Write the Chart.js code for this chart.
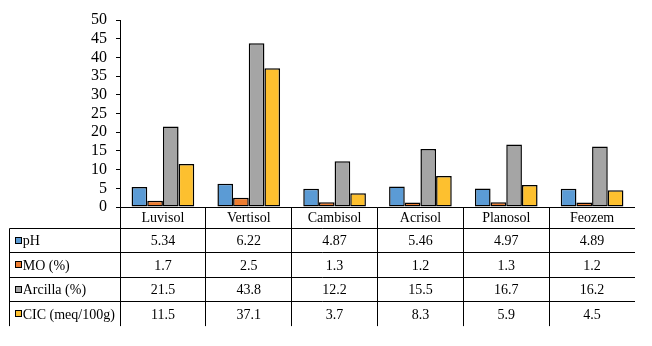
<!DOCTYPE html>
<html>
<head>
<meta charset="utf-8">
<script src="https://cdn.jsdelivr.net/npm/chart.js@4/dist/chart.umd.min.js"></script>
<style>
  html, body { margin: 0; padding: 0; background: #ffffff; }
  #wrap { width: 652px; height: 346px; }
</style>
</head>
<body>
<div id="wrap"><canvas id="c" width="652" height="346"></canvas></div>
<script>
// Soil types (columns) and the four measured properties
const categories = ['Luvisol', 'Vertisol', 'Cambisol', 'Acrisol', 'Planosol', 'Feozem'];
const seriesNames = ['pH', 'MO (%)', 'Arcilla (%)', 'CIC (meq/100g)'];
const phValues = [5.34, 6.22, 4.87, 5.46, 4.97, 4.89];
const moValues = [1.7, 2.5, 1.3, 1.2, 1.3, 1.2];
const arcillaValues = [21.5, 43.8, 12.2, 15.5, 16.7, 16.2];
const cicValues = [11.5, 37.1, 3.7, 8.3, 5.9, 4.5];
const yTicks = [0, 5, 10, 15, 20, 25, 30, 35, 40, 45, 50];

const seriesValues = [phValues, moValues, arcillaValues, cicValues];
const seriesColors = ['#5B9BD5', '#ED7D31', '#A5A5A5', '#FDC02F'];

const tableFont = '14px "Liberation Serif", "Times New Roman", serif';

// Data table drawn under the plot, aligned on the category scale
const dataTablePlugin = {
  id: 'dataTable',
  afterDraw(chart) {
    const ctx = chart.ctx;
    const area = chart.chartArea;
    const xs = chart.scales.x;
    const n = categories.length;
    const step = (area.right - area.left) / n;
    const crisp = v => Math.floor(v) + 0.5;

    const top = crisp(area.bottom);
    const headerBottom = 228.5;
    const rowH = 24.4;
    const rowLines = [headerBottom];
    for (let r = 1; r <= seriesNames.length; r++) rowLines.push(headerBottom + r * rowH);
    const tableBottom = rowLines[rowLines.length - 1];
    const legendLeft = 9.5;
    const axisX = crisp(area.left);
    const right = area.right;

    ctx.save();
    ctx.strokeStyle = '#000000';
    ctx.lineWidth = 1;
    ctx.beginPath();
    // baseline / top of header row
    ctx.moveTo(axisX, top); ctx.lineTo(right, top);
    // horizontal rules of the value rows
    for (let r = 0; r < rowLines.length - 1; r++) {
      const y = crisp(rowLines[r]);
      ctx.moveTo(legendLeft, y); ctx.lineTo(right, y);
    }
    // left edge of legend column
    ctx.moveTo(legendLeft, crisp(headerBottom)); ctx.lineTo(legendLeft, tableBottom);
    // axis line continues through the table
    ctx.moveTo(axisX, area.top); ctx.lineTo(axisX, tableBottom);
    // column separators
    for (let i = 1; i < n; i++) {
      const x = crisp(xs.getPixelForValue(i) - step / 2);
      ctx.moveTo(x, top); ctx.lineTo(x, tableBottom);
    }
    ctx.stroke();

    ctx.fillStyle = '#000000';
    ctx.font = tableFont;
    ctx.textBaseline = 'middle';
    ctx.textAlign = 'center';
    // category headers
    const headerMid = (area.bottom + headerBottom) / 2 + 1;
    categories.forEach((c, i) => ctx.fillText(c, xs.getPixelForValue(i), headerMid));

    // value rows
    seriesNames.forEach((name, r) => {
      const y0 = rowLines[r], y1 = rowLines[r + 1];
      const mid = (y0 + y1) / 2 + 1;
      // legend key
      ctx.fillStyle = seriesColors[r];
      ctx.fillRect(15.5, Math.round(mid) - 4.5, 6, 6);
      ctx.strokeStyle = '#000000';
      ctx.strokeRect(15.5, Math.round(mid) - 4.5, 6, 6);
      ctx.fillStyle = '#000000';
      ctx.textAlign = 'left';
      ctx.fillText(name, 22.7, mid);
      ctx.textAlign = 'center';
      seriesValues[r].forEach((v, i) => {
        ctx.fillText(String(v), xs.getPixelForValue(i), mid);
      });
    });
    ctx.restore();
  }
};

new Chart(document.getElementById('c'), {
  type: 'bar',
  data: {
    labels: categories,
    datasets: seriesNames.map((name, k) => ({
      label: name,
      data: seriesValues[k],
      backgroundColor: seriesColors[k],
      borderColor: '#000000',
      borderWidth: 1.5,
      borderSkipped: false,
      categoryPercentage: 0.73,
      barPercentage: 1.0
    }))
  },
  options: {
    responsive: false,
    animation: false,
    devicePixelRatio: 1,
    layout: { padding: { left: 0, right: 17, top: 20, bottom: 139 } },
    plugins: { legend: { display: false }, tooltip: { enabled: false } },
    scales: {
      x: { display: false },
      y: {
        min: 0,
        max: 50,
        afterFit(scale) { scale.width = 120; },
        afterBuildTicks(scale) { scale.ticks = yTicks.map(v => ({ value: v })); },
        ticks: {
          color: '#000000',
          padding: 9,
          autoSkip: false,
          font: { family: '"Liberation Serif", "Times New Roman", serif', size: 16 }
        },
        grid: {
          drawOnChartArea: false,
          drawTicks: true,
          tickLength: 4,
          color: '#000000'
        },
        border: { display: true, color: '#000000', width: 1 }
      }
    }
  },
  plugins: [dataTablePlugin]
});
</script>
</body>
</html>
